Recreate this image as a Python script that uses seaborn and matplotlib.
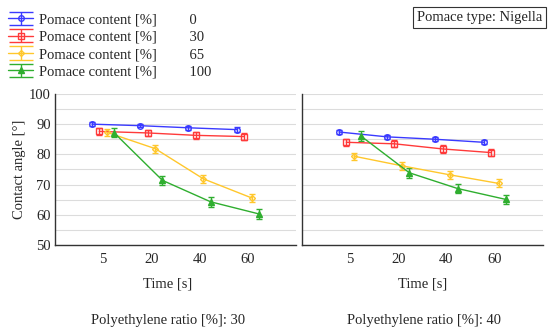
import numpy as np
import matplotlib
matplotlib.use("Agg")
import matplotlib.pyplot as plt
from matplotlib.legend_handler import HandlerErrorbar
from matplotlib.container import ErrorbarContainer
import seaborn as sns

# categories
times = ["5", "20", "40", "60"]
pomace = ["0", "30", "65", "100"]

# contact angle [deg], polyethylene ratio 30 %
pe30_mean = {
    "0": [90.0, 89.5, 88.8, 88.2],
    "30": [87.6, 87.1, 86.3, 85.9],
    "65": [87.3, 81.9, 71.9, 65.6],
    "100": [87.1, 71.4, 64.3, 60.3],
}
pe30_err = {
    "0": [0.6, 0.6, 0.7, 0.7],
    "30": [1.1, 1.1, 1.1, 1.1],
    "65": [1.2, 1.3, 1.3, 1.3],
    "100": [1.5, 1.6, 1.6, 1.6],
}
# polyethylene ratio 40 %
pe40_mean = {
    "0": [87.4, 85.8, 85.0, 84.0],
    "30": [84.0, 83.5, 81.8, 80.6],
    "65": [79.4, 76.2, 73.2, 70.4],
    "100": [86.0, 73.9, 68.7, 65.1],
}
pe40_err = {
    "0": [0.6, 0.6, 0.6, 0.6],
    "30": [1.2, 1.2, 1.2, 1.2],
    "65": [1.2, 1.3, 1.3, 1.3],
    "100": [1.6, 1.6, 1.6, 1.6],
}

colors = ["#3a3aff", "#ff3a3a", "#ffc72c", "#2fae2f"]
markers = ["o", "s", "D", "^"]
mfc = ["none", "none", "none", None]
msize = [4, 5, 3, 4]
offsets = [-0.23, -0.08, 0.08, 0.23]


class WideCapHandler(HandlerErrorbar):
    # legend entry with caps as wide as the handle
    def create_artists(self, legend, orig_handle, xdescent, ydescent,
                       width, height, fontsize, trans):
        arts = super().create_artists(legend, orig_handle, xdescent, ydescent,
                                      width, height, fontsize, trans)
        for a in arts:
            if hasattr(a, "get_marker") and a.get_marker() == "_":
                a.set_markersize(width)
        return arts


sns.set_style("white")
plt.rcParams["font.family"] = ["Liberation Serif", "DejaVu Serif"]
plt.rcParams["font.size"] = 10.5

fig = plt.figure(figsize=(5.5, 3.32), dpi=100)
ax1 = fig.add_axes([0.100, 0.262, 0.438, 0.455])
ax2 = fig.add_axes([0.549, 0.262, 0.438, 0.455])

xpos = np.arange(1, len(times) + 1)

for ax, means, errs in [(ax1, pe30_mean, pe30_err), (ax2, pe40_mean, pe40_err)]:
    for i, p in enumerate(pomace):
        kw = dict(markerfacecolor=mfc[i]) if mfc[i] else {}
        ax.errorbar(xpos + offsets[i], means[p], yerr=errs[p], color=colors[i],
                    marker=markers[i], markersize=msize[i], lw=1, capsize=2.5,
                    elinewidth=1, capthick=1,
                    label=f"Pomace content [%]         {p}", **kw)
    ax.set_xlim(0, 5)
    ax.set_ylim(50, 100)
    ax.set_xticks(np.arange(0, 6))
    ax.set_xticklabels([""] + times + [""])
    ax.set_yticks(np.arange(50, 101, 10))
    ax.set_yticks(np.arange(55, 100, 10), minor=True)
    ax.grid(axis="y", which="both", color="#dcdcdc", lw=0.8)
    ax.set_axisbelow(True)
    ax.set_xlabel("Time [s]", labelpad=8)
    for s in ["top", "right"]:
        ax.spines[s].set_visible(False)
    for s in ["left", "bottom"]:
        ax.spines[s].set_color("#333333")
        ax.spines[s].set_linewidth(1)
    ax.tick_params(axis="both", which="both", direction="in", length=2.5,
                   width=0.8, color="#333333", labelsize=10.5)
    ax.tick_params(axis="x", pad=6)
    ax.tick_params(axis="y", pad=3)

ax1.xaxis.label.set_x(0.469)
ax1.set_ylabel("Contact angle [°]", labelpad=2)
ax2.set_yticklabels([])

handles, labels = ax1.get_legend_handles_labels()
fig.legend(handles, labels, loc="upper left", bbox_to_anchor=(-0.006, 0.995),
           frameon=False, labelspacing=0.28, handlelength=1.7, handletextpad=0.4,
           borderpad=0.3,
           handler_map={ErrorbarContainer: WideCapHandler(yerr_size=0.45)})

fig.text(0.986, 0.947, "Pomace type: Nigella", ha="right", va="center",
         bbox=dict(boxstyle="square,pad=0.25", fc="white", ec="#333333", lw=0.8))

fig.text(0.306, 0.036, "Polyethylene ratio [%]: 30", ha="center", va="center")
fig.text(0.771, 0.036, "Polyethylene ratio [%]: 40", ha="center", va="center")

fig.savefig("out.png", dpi=100)
